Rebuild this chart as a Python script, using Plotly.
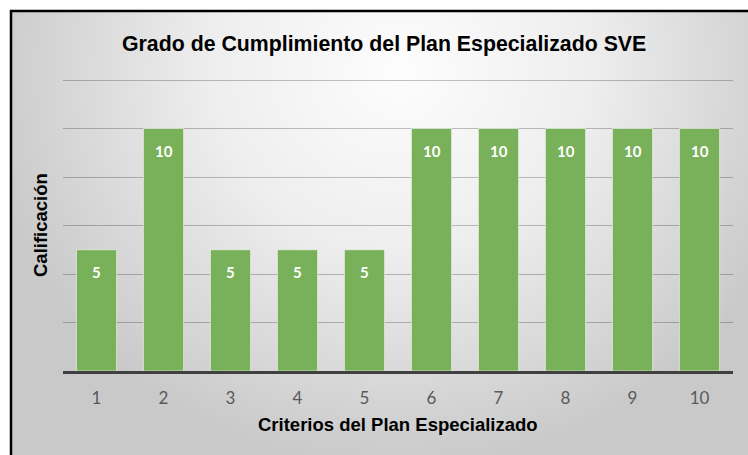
import plotly.graph_objects as go

# ---- data ----
criterios = ["1", "2", "3", "4", "5", "6", "7", "8", "9", "10"]
calificacion = [5, 10, 5, 5, 5, 10, 10, 10, 10, 10]
titulo = "Grado de Cumplimiento del Plan Especializado SVE"
titulo_x = "Criterios del Plan Especializado"
titulo_y = "Calificación"

W, H = 748, 455
BAR_COLOR = "#79B15A"

fig = go.Figure()

# background radial gradient (decoration, pixel-space axis x/y)
fig.add_trace(go.Scatter(
    x=[-20, 820, 820, -20, -20],
    y=[-330, -330, 470, 470, -330],
    mode="lines", fill="toself", line=dict(width=0),
    fillgradient=dict(type="radial",
                      colorscale=[[0, "#fdfdfd"], [0.45, "#eeeeee"], [1, "#c9c9c9"]]),
    hoverinfo="skip", showlegend=False, xaxis="x", yaxis="y",
))

# bars
fig.add_trace(go.Bar(
    x=criterios, y=calificacion,
    marker=dict(color=BAR_COLOR, line=dict(color="rgba(255,255,255,0.55)", width=1)),
    xaxis="x2", yaxis="y2", showlegend=False, hoverinfo="x+y",
))

annotations = []
for i, v in enumerate(calificacion):
    annotations.append(dict(
        x=i, y=v, xref="x2", yref="y2", text=f"<b>{v}</b>", showarrow=False,
        yshift=-22, font=dict(family="Lato", size=15, color="white"),
    ))

annotations += [
    dict(text=f"<b>{titulo}</b>", x=384 / W, y=1 - 44 / H, xref="paper", yref="paper",
         xanchor="center", yanchor="middle", showarrow=False,
         font=dict(family="Liberation Sans, Arial", size=21.3, color="black")),
    dict(text=f"<b>{titulo_x}</b>", x=398 / W, y=1 - 424 / H, xref="paper", yref="paper",
         xanchor="center", yanchor="middle", showarrow=False,
         font=dict(family="Liberation Sans, Arial", size=18.5, color="black")),
    dict(text=f"<b>{titulo_y}</b>", x=40 / W, y=1 - 225 / H, xref="paper", yref="paper",
         xanchor="center", yanchor="middle", showarrow=False, textangle=-90,
         font=dict(family="Liberation Sans, Arial", size=18.5, color="black")),
]

fig.update_layout(
    width=W, height=H,
    margin=dict(l=0, r=0, t=0, b=0),
    paper_bgcolor="white", plot_bgcolor="rgba(0,0,0,0)",
    xaxis=dict(domain=[11 / W, 1], range=[11, W], visible=False, fixedrange=True),
    yaxis=dict(domain=[0, 1 - 11 / H], range=[H, 11], visible=False, fixedrange=True),
    xaxis2=dict(domain=[63 / W, 733 / W], anchor="y2", type="category",
                range=[-0.5, 9.5], showgrid=False, showline=True,
                linecolor="#404040", linewidth=3, ticks="",
                ticklabelstandoff=10,
                tickfont=dict(family="Lato", size=17, color="#595959")),
    yaxis2=dict(domain=[(H - 371) / H, (H - 78.8) / H], anchor="x2",
                range=[0, 12.05], tickvals=[2, 4, 6, 8, 10, 12], showticklabels=False,
                zeroline=False,
                showgrid=True, gridcolor="rgba(0,0,0,0.24)", gridwidth=1),
    bargap=0.4,
    annotations=annotations,
    shapes=[dict(type="rect", xref="paper", yref="paper",
                 x0=11 / W, y0=-0.1, x1=1.1, y1=1 - 11 / H,
                 line=dict(color="black", width=2.5), fillcolor="rgba(0,0,0,0)",
                 layer="above")],
)

fig.write_html("out.html", config={"displayModeBar": False},
               post_script="document.body.style.margin='0px';document.body.style.overflow='hidden';")
